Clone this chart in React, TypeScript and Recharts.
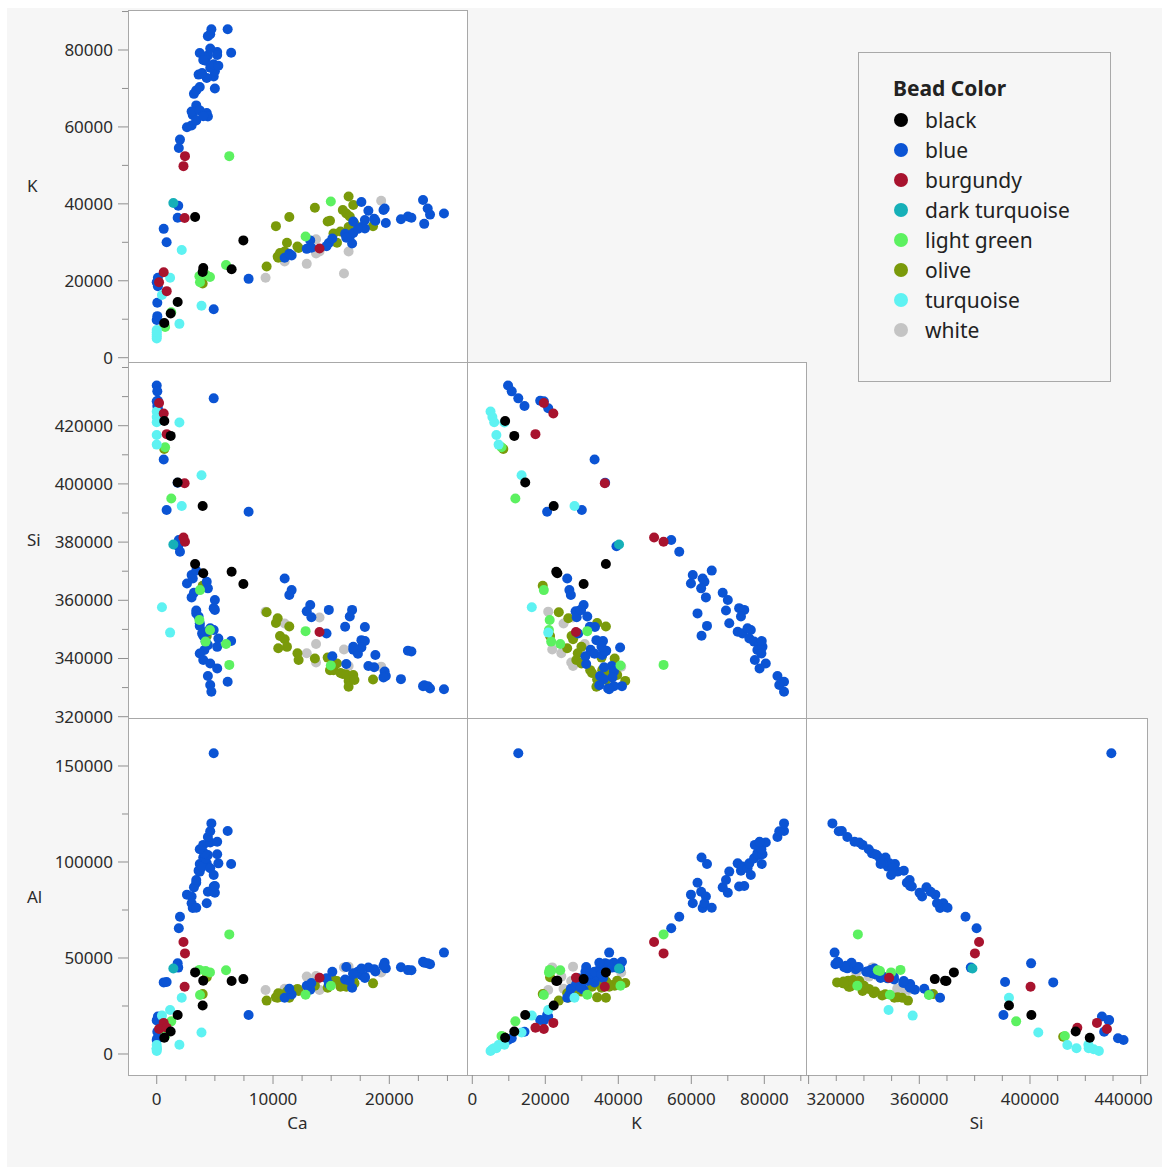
import { ScatterChart, Scatter, XAxis, YAxis } from "recharts"

// each row: [Ca, K, Si, Al]
type Row = [number, number, number, number]

const black: Row[] = [
  [650, 9000, 421600, 8500],
  [1200, 11500, 416500, 11700],
  [1800, 14500, 400500, 20300],
  [3950, 22300, 392400, 25300],
  [3300, 36600, 372500, 42500],
  [4000, 23300, 369300, 38200],
  [6440, 23000, 369800, 38000],
  [7450, 30500, 365600, 39000],
]

const blue: Row[] = [
  [4900, 12600, 429400, 156600],
  [7900, 20500, 390400, 20300],
  [600, 33500, 408400, 37300],
  [850, 30000, 391000, 37500],
  [0, 9800, 433800, 7300],
  [50, 10800, 431800, 8200],
  [50, 14300, 426800, 11600],
  [100, 18600, 428600, 17700],
  [0, 19600, 428400, 17500],
  [100, 20800, 426000, 19500],
  [1800, 36400, 400400, 47200],
  [1850, 39500, 378600, 45000],
  [1900, 54500, 380700, 65500],
  [2000, 56700, 376700, 71500],
  [3000, 60400, 368700, 78500],
  [2600, 59900, 365800, 83000],
  [3100, 63100, 367500, 76000],
  [4300, 63600, 366400, 78500],
  [3400, 65600, 370200, 76200],
  [4400, 62700, 364100, 84500],
  [3000, 64000, 361000, 82000],
  [3400, 61700, 355500, 89200],
  [3700, 64300, 351200, 99000],
  [4000, 62800, 347800, 102300],
  [3200, 68600, 362600, 86800],
  [5000, 70000, 360100, 84000],
  [3400, 69500, 356500, 90600],
  [3700, 70400, 352100, 95000],
  [4900, 73100, 357300, 87200],
  [5000, 74500, 356700, 87500],
  [3600, 73600, 354400, 95500],
  [4300, 72700, 349200, 99300],
  [3900, 74000, 348600, 97600],
  [4600, 75400, 350400, 96700],
  [4900, 76300, 349800, 93200],
  [5300, 75900, 346900, 99300],
  [4200, 77200, 345800, 101900],
  [4400, 78600, 344600, 103600],
  [4100, 78100, 342900, 104500],
  [5200, 79500, 344000, 104000],
  [6400, 79300, 346000, 99000],
  [3700, 79200, 341700, 106600],
  [4000, 77400, 339500, 108900],
  [4600, 80400, 338300, 110200],
  [5200, 78700, 336600, 110500],
  [4400, 83600, 334000, 113000],
  [6100, 85400, 332000, 116100],
  [4600, 84100, 330900, 116000],
  [4700, 85400, 328600, 120100],
  [11000, 26000, 367500, 29300],
  [11600, 26600, 363500, 31000],
  [11400, 27000, 361800, 34000],
  [13200, 30500, 358400, 33500],
  [12900, 28300, 356200, 35500],
  [13300, 28600, 354200, 37000],
  [14800, 29800, 356700, 36500],
  [14600, 29000, 348600, 39400],
  [16800, 29700, 356700, 34500],
  [16600, 31500, 354400, 38000],
  [16200, 32200, 350900, 38800],
  [17900, 33600, 350800, 40200],
  [15100, 31000, 340800, 42800],
  [17600, 34000, 346300, 41000],
  [17900, 35800, 346000, 39600],
  [16900, 32400, 343000, 42000],
  [17300, 33500, 341600, 42900],
  [18800, 35600, 341200, 43000],
  [18200, 38200, 337400, 45000],
  [18700, 36100, 337000, 44200],
  [16300, 31200, 338100, 45300],
  [19600, 38800, 335500, 47500],
  [19700, 35000, 334000, 44600],
  [19500, 38400, 333500, 46000],
  [21000, 36000, 332900, 45200],
  [21600, 36700, 342700, 43700],
  [21900, 36400, 342400, 43600],
  [22900, 41000, 330500, 48000],
  [23300, 38800, 330500, 47200],
  [23500, 37200, 329700, 46800],
  [23000, 34800, 330800, 47500],
  [24700, 37500, 329400, 52800],
  [17600, 40500, 343800, 44500],
  [16900, 35400, 344000, 41500],
]

const burgundy: Row[] = [
  [2300, 49800, 381600, 58300],
  [2430, 52400, 380100, 52400],
  [2400, 36300, 400200, 35000],
  [600, 22200, 424200, 16200],
  [200, 19600, 427800, 13000],
  [860, 17300, 417100, 13700],
  [14000, 28400, 349100, 39700],
]

const darkTurquoise: Row[] = [[1430, 40200, 379200, 44500]]

const lightGreen: Row[] = [
  [6240, 52400, 337800, 62300],
  [720, 8000, 412600, 9400],
  [1250, 11800, 395000, 17000],
  [3720, 19600, 363500, 30700],
  [3670, 21200, 353200, 43800],
  [4580, 21000, 349800, 42500],
  [4200, 21600, 345800, 43200],
  [5960, 24100, 345000, 43600],
  [12800, 31500, 349400, 30900],
  [14970, 40600, 337600, 35500],
]

const olive: Row[] = [
  [3950, 19300, 365000, 31200],
  [4300, 21300, 347700, 40000],
  [650, 8500, 412000, 9000],
  [9450, 23700, 355900, 27800],
  [10400, 26300, 353800, 29300],
  [10250, 34200, 352200, 29500],
  [11400, 36600, 351000, 29300],
  [10600, 27200, 347700, 31100],
  [11000, 27600, 346600, 30500],
  [11200, 29900, 344000, 32500],
  [10450, 26000, 343500, 31600],
  [12100, 28900, 341800, 33900],
  [12200, 28500, 339500, 32800],
  [13600, 39000, 340000, 35500],
  [14700, 35400, 340300, 34500],
  [14900, 35600, 336000, 36500],
  [15200, 32300, 336000, 38500],
  [15500, 29900, 338300, 38000],
  [15800, 32800, 335000, 35000],
  [16000, 38400, 334700, 36000],
  [16300, 37500, 334500, 35000],
  [16500, 41900, 332300, 37000],
  [16900, 39700, 334300, 38200],
  [16600, 36700, 332600, 37700],
  [16500, 34000, 330300, 37300],
  [17000, 34800, 332600, 36800],
  [18600, 34200, 332800, 36800],
]

const turquoise: Row[] = [
  [2150, 28000, 392400, 29300],
  [3850, 13500, 403000, 11200],
  [1950, 8800, 421100, 4800],
  [450, 16300, 357600, 20000],
  [1150, 20800, 348900, 22900],
  [0, 5000, 424900, 1600],
  [0, 5500, 423000, 2500],
  [0, 6000, 421200, 3000],
  [0, 6600, 416800, 3000],
  [0, 7200, 413500, 4700],
]

const white: Row[] = [
  [9360, 20800, 356100, 33300],
  [11000, 25000, 352000, 34000],
  [13700, 30800, 345000, 40600],
  [14000, 27600, 354100, 33300],
  [12900, 24400, 341800, 40300],
  [13700, 27100, 338600, 38000],
  [16500, 27600, 337400, 45500],
  [16100, 21900, 343100, 45100],
  [19300, 40800, 337200, 42400],
]

// legend order
const beadNames = ["black", "blue", "burgundy", "dark turquoise", "light green", "olive", "turquoise", "white"]
const beadRows: Record<string, Row[]> = {
  black, blue, burgundy, "dark turquoise": darkTurquoise, "light green": lightGreen, olive, turquoise, white,
}
const beadFill: Record<string, string> = {
  black: "#000000",
  blue: "#0b54d4",
  burgundy: "#a8132e",
  "dark turquoise": "#16b0b8",
  "light green": "#5cf160",
  olive: "#7a9a0a",
  turquoise: "#5ef2f2",
  white: "#c4c4c4",
}
const drawOrder = ["white", "olive", "blue", "light green", "turquoise", "dark turquoise", "burgundy", "black"]

// ticks
const caTicks = [0, 2500, 5000, 7500, 10000, 12500, 15000, 17500, 20000, 22500, 25000]
const caLabels = [0, 10000, 20000]
const kTicks = [0, 10000, 20000, 30000, 40000, 50000, 60000, 70000, 80000, 90000]
const kLabels = [0, 20000, 40000, 60000, 80000]
const siTicks = [320000, 330000, 340000, 350000, 360000, 370000, 380000, 390000, 400000, 410000, 420000, 430000, 440000]
const siColLabels = [320000, 360000, 400000, 440000]
const siRowLabels = [320000, 340000, 360000, 380000, 400000, 420000]
const alTicks = [0, 25000, 50000, 75000, 100000, 125000, 150000]
const alLabels = [0, 50000, 100000, 150000]

type Var = "Ca" | "K" | "Si" | "Al"
const varIndex: Record<Var, number> = { Ca: 0, K: 1, Si: 2, Al: 3 }

const colVars: Var[] = ["Ca", "K", "Si"]
const rowVars: Var[] = ["K", "Si", "Al"]
const colEdges = [128, 467, 806, 1147]
const rowEdges = [10, 362, 718, 1075]

const colDomain: Record<string, [number, number]> = {
  Ca: [-2470, 26680],
  K: [-1450, 91420],
  Si: [319060, 442280],
}
const rowDomain: Record<string, [number, number]> = {
  K: [-1120, 90400],
  Si: [319550, 441890],
  Al: [-10940, 175000],
}
const colTicks: Record<string, number[]> = { Ca: caTicks, K: kTicks, Si: siTicks }
const colLabels: Record<string, number[]> = { Ca: caLabels, K: kLabels, Si: siColLabels }
const rowTicks: Record<string, number[]> = { K: kTicks, Si: siTicks, Al: alTicks }
const rowLabels: Record<string, number[]> = { K: kLabels, Si: siRowLabels, Al: alLabels }
const labelShift: Record<number, number> = { 320000: 27, 440000: -17 }

const font = "'Noto Sans', 'Open Sans', sans-serif"
const tickColor = "#8f8f8f"
const textColor = "#2b2b2b"

function makeLeftTick(labels: number[]) {
  return (p: any) => {
    const v = p.payload.value
    const major = labels.includes(v)
    return (
      <g>
        <line x1={p.x} y1={p.y} x2={p.x - (major ? 10 : 6)} y2={p.y} stroke={tickColor} />
        {major && (
          <text x={p.x - 15} y={p.y + 6} textAnchor="end" fontSize={17} fontFamily={font} fill={textColor}>
            {String(v)}
          </text>
        )}
      </g>
    )
  }
}

function makeBottomTick(labels: number[], shifted: boolean) {
  return (p: any) => {
    const v = p.payload.value
    const major = labels.includes(v)
    const dx = shifted ? labelShift[v] || 0 : 0
    return (
      <g>
        <line x1={p.x} y1={p.y} x2={p.x} y2={p.y + (major ? 9 : 6)} stroke={tickColor} />
        {major && (
          <text x={p.x + dx} y={p.y + 30} textAnchor="middle" fontSize={17} fontFamily={font} fill={textColor}>
            {String(v)}
          </text>
        )}
      </g>
    )
  }
}

function Panel({ col, row }: { col: number; row: number }) {
  const xVar = colVars[col]
  const yVar = rowVars[row]
  const showY = col === 0
  const showX = row === 2
  const left = showY ? 0 : colEdges[col]
  const width = colEdges[col + 1] - left
  const top = rowEdges[row]
  const height = rowEdges[row + 1] - top + (showX ? 70 : 0)
  const xi = varIndex[xVar]
  const yi = varIndex[yVar]

  return (
    <div style={{ position: "absolute", left, top }}>
      <ScatterChart width={width} height={height} margin={{ top: 0, right: 0, bottom: 0, left: 0 }}>
        <XAxis
          type="number"
          dataKey="x"
          domain={colDomain[xVar]}
          allowDataOverflow
          hide={!showX}
          height={70}
          ticks={colTicks[xVar]}
          interval={0}
          tickSize={0}
          tickMargin={0}
          axisLine={false}
          tickLine={false}
          tick={makeBottomTick(colLabels[xVar], xVar === "Si")}
          label={{ value: xVar, position: "insideBottom", offset: 16, fontSize: 17, fill: textColor, fontFamily: font }}
        />
        <YAxis
          type="number"
          dataKey="y"
          domain={rowDomain[yVar]}
          allowDataOverflow
          hide={!showY}
          width={128}
          ticks={rowTicks[yVar]}
          interval={0}
          tickSize={0}
          tickMargin={0}
          axisLine={false}
          tickLine={false}
          tick={makeLeftTick(rowLabels[yVar])}
          label={{ value: yVar, position: "insideLeft", offset: 27, fontSize: 17, fill: textColor, fontFamily: font }}
        />
        {drawOrder.map((name) => (
          <Scatter
            key={name}
            name={name}
            data={beadRows[name].map((r) => ({ x: r[xi], y: r[yi] }))}
            fill={beadFill[name]}
            isAnimationActive={false}
            shape={(p: any) => <circle cx={p.cx} cy={p.cy} r={5} fill={beadFill[name]} />}
          />
        ))}
      </ScatterChart>
    </div>
  )
}

const panelCells: [number, number][] = [
  [0, 0],
  [0, 1],
  [1, 1],
  [0, 2],
  [1, 2],
  [2, 2],
]

export default function App() {
  return (
    <div
      style={{
        position: "absolute",
        left: 0,
        top: 0,
        width: 1162,
        height: 1167,
        background: "#ffffff",
        fontFamily: font,
        overflow: "hidden",
      }}
    >
      <style>{".recharts-surface{overflow:visible}"}</style>
      <div style={{ position: "absolute", left: 7, top: 8, right: 0, bottom: 0, background: "#f6f6f6" }} />
      {panelCells.map(([c, r]) => (
        <div
          key={`bg-${c}-${r}`}
          style={{
            position: "absolute",
            left: colEdges[c],
            top: rowEdges[r],
            width: colEdges[c + 1] - colEdges[c] + 1,
            height: rowEdges[r + 1] - rowEdges[r] + 1,
            background: "#ffffff",
            border: "1px solid #a8a8a8",
            boxSizing: "border-box",
          }}
        />
      ))}
      {panelCells.map(([c, r]) => (
        <Panel key={`p-${c}-${r}`} col={c} row={r} />
      ))}
      <div
        style={{
          position: "absolute",
          left: 858,
          top: 52,
          width: 253,
          height: 330,
          border: "1px solid #a9a9a9",
          boxSizing: "border-box",
          background: "#f6f6f6",
          color: "#222",
        }}
      >
        <div style={{ position: "absolute", left: 34, top: 22, fontSize: 21, fontWeight: 700, lineHeight: "26px" }}>
          Bead Color
        </div>
        {beadNames.map((name, i) => (
          <div key={name} style={{ position: "absolute", left: 35, top: 54 + 30 * i, height: 26, display: "flex", alignItems: "center" }}>
            <span style={{ width: 14, height: 14, borderRadius: 7, background: beadFill[name], display: "inline-block" }} />
            <span style={{ marginLeft: 17, fontSize: 21, lineHeight: "26px", whiteSpace: "nowrap" }}>{name}</span>
          </div>
        ))}
      </div>
    </div>
  )
}
